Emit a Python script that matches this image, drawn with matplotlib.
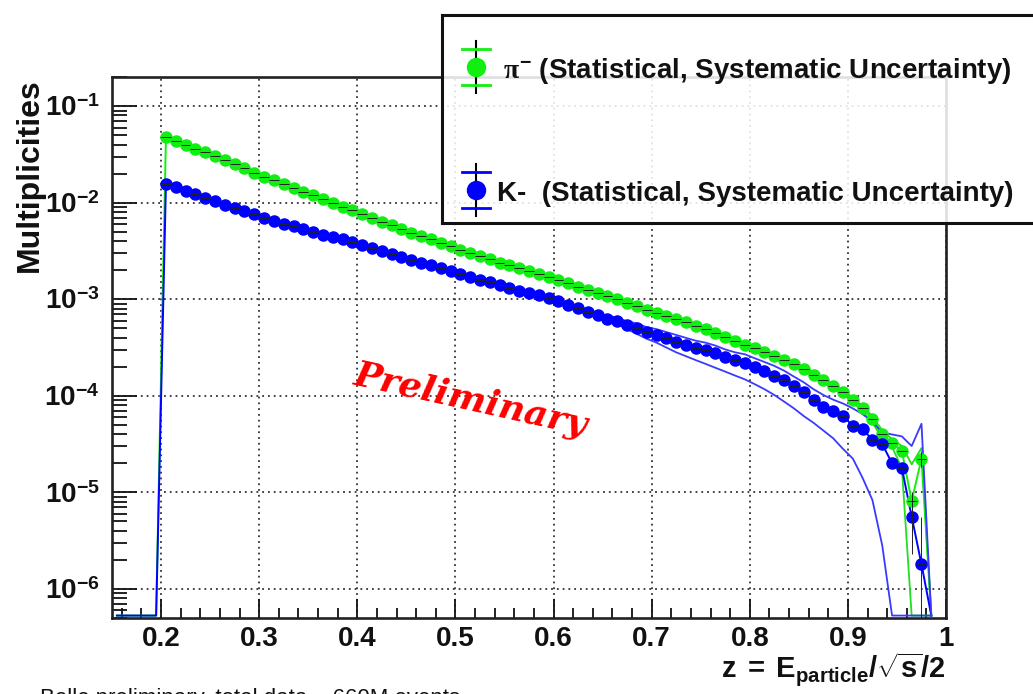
"""Pi- and K- multiplicities vs z, log scale, ROOT-like style."""

import numpy as np
import matplotlib
matplotlib.use("Agg")
import matplotlib.pyplot as plt
from matplotlib.ticker import FixedLocator, LogLocator, MultipleLocator, NullFormatter

plt.rcParams["font.family"] = ["Liberation Sans", "DejaVu Sans"]
plt.rcParams["font.weight"] = "bold"
plt.rcParams["mathtext.fontset"] = "custom"
plt.rcParams["mathtext.rm"] = "Liberation Sans:bold"
plt.rcParams["mathtext.bf"] = "Liberation Sans:bold"
plt.rcParams["mathtext.it"] = "Liberation Serif"

# bin centres with entries (bin width 0.01)
z_pts = 0.205 + 0.01 * np.arange(78)
z_empty_lo = [0.155, 0.165, 0.175, 0.185, 0.195]
z_empty_hi = [0.985]

pi_mult = [
    4.79e-2, 4.37e-2, 3.98e-2, 3.63e-2, 3.31e-2, 3.02e-2, 2.75e-2, 2.51e-2, 2.29e-2, 2.04e-2,
    1.86e-2, 1.70e-2, 1.55e-2, 1.41e-2, 1.29e-2, 1.20e-2, 1.10e-2, 1.00e-2, 9.12e-3, 8.32e-3,
    7.59e-3, 6.92e-3, 6.31e-3, 5.89e-3, 5.37e-3, 4.90e-3, 4.47e-3, 4.17e-3, 3.80e-3, 3.55e-3,
    3.24e-3, 3.02e-3, 2.82e-3, 2.63e-3, 2.40e-3, 2.24e-3, 2.09e-3, 1.95e-3, 1.82e-3, 1.70e-3,
    1.58e-3, 1.48e-3, 1.35e-3, 1.26e-3, 1.17e-3, 1.07e-3, 1.00e-3, 9.12e-4, 8.51e-4, 7.76e-4,
    7.24e-4, 6.76e-4, 6.17e-4, 5.75e-4, 5.25e-4, 4.90e-4, 4.47e-4, 4.07e-4, 3.72e-4, 3.39e-4,
    3.09e-4, 2.82e-4, 2.57e-4, 2.34e-4, 2.14e-4, 1.91e-4, 1.66e-4, 1.45e-4, 1.26e-4, 1.10e-4,
    9.12e-5, 7.41e-5, 5.75e-5, 3.98e-5, 3.24e-5, 2.69e-5, 8.10e-6, 2.24e-5,
]
k_mult = [
    1.55e-2, 1.45e-2, 1.32e-2, 1.23e-2, 1.12e-2, 1.05e-2, 9.55e-3, 8.91e-3, 8.13e-3, 7.59e-3,
    6.92e-3, 6.46e-3, 6.03e-3, 5.75e-3, 5.37e-3, 5.01e-3, 4.68e-3, 4.37e-3, 4.17e-3, 3.89e-3,
    3.63e-3, 3.39e-3, 3.16e-3, 2.95e-3, 2.75e-3, 2.57e-3, 2.40e-3, 2.24e-3, 2.09e-3, 1.95e-3,
    1.82e-3, 1.70e-3, 1.58e-3, 1.51e-3, 1.41e-3, 1.32e-3, 1.23e-3, 1.15e-3, 1.10e-3, 1.02e-3,
    9.55e-4, 8.71e-4, 8.13e-4, 7.41e-4, 6.92e-4, 6.31e-4, 5.89e-4, 5.37e-4, 5.01e-4, 4.57e-4,
    4.27e-4, 3.98e-4, 3.63e-4, 3.39e-4, 3.16e-4, 2.95e-4, 2.75e-4, 2.51e-4, 2.34e-4, 2.19e-4,
    2.00e-4, 1.82e-4, 1.62e-4, 1.45e-4, 1.26e-4, 1.10e-4, 9.12e-5, 7.59e-5, 6.92e-5, 6.17e-5,
    4.90e-5, 4.57e-5, 3.47e-5, 3.16e-5, 2.00e-5, 1.78e-5, 5.60e-6, 1.80e-6,
]

# statistical errors, only visible in the last bins
stat_z = [0.965, 0.975]
pi_stat = [2.0e-6, 4.0e-6]
k_stat = [3.3e-6, 3.8e-6]

# systematic envelopes (0 = empty bin)
k_sys_z = 0.655 + 0.01 * np.arange(34)
k_sys_hi = [
    6.76e-4, 6.46e-4, 5.89e-4, 5.62e-4, 5.13e-4, 4.90e-4, 4.57e-4, 4.27e-4, 3.98e-4, 3.72e-4,
    3.55e-4, 3.31e-4, 3.02e-4, 2.82e-4, 2.69e-4, 2.45e-4, 2.24e-4, 2.04e-4, 1.82e-4, 1.58e-4,
    1.38e-4, 1.17e-4, 1.02e-4, 9.12e-5, 8.32e-5, 7.41e-5, 6.46e-5, 5.37e-5, 4.17e-5, 3.98e-5,
    3.80e-5, 3.02e-5, 5.13e-5, 0,
]
k_sys_lo = [
    6.03e-4, 5.50e-4, 4.90e-4, 4.37e-4, 3.89e-4, 3.55e-4, 3.16e-4, 2.82e-4, 2.57e-4, 2.34e-4,
    2.14e-4, 1.95e-4, 1.78e-4, 1.62e-4, 1.48e-4, 1.32e-4, 1.17e-4, 1.02e-4, 8.71e-5, 7.41e-5,
    6.17e-5, 5.25e-5, 4.37e-5, 3.63e-5, 2.82e-5, 2.24e-5, 1.41e-5, 8.32e-6, 2.82e-6, 0,
    0, 0, 0, 0,
]
pi_sys_z = 0.855 + 0.01 * np.arange(14)
pi_sys_hi = [2.00e-4, 1.74e-4, 1.51e-4, 1.32e-4, 1.15e-4, 9.55e-5, 7.76e-5,
             6.17e-5, 4.37e-5, 3.55e-5, 3.02e-5, 1.95e-5, 2.88e-5, 0]
pi_sys_lo = [1.82e-4, 1.58e-4, 1.38e-4, 1.20e-4, 1.05e-4, 8.51e-5, 6.92e-5,
             5.25e-5, 3.63e-5, 2.95e-5, 1.78e-5, 0, 0, 0]

YMIN, YMAX = 5e-7, 0.2
FLOOR = YMIN * 1.06
GREEN = "#11ee11"
BLUE = "#0000ff"
INK = "#111111"


def at_floor(v):
    v = np.asarray(v, dtype=float)
    return np.where(v > 0, v, FLOOR)


fig = plt.figure(figsize=(10.33, 6.94), dpi=100)
ax = fig.add_axes([0.1084, 0.1095, 0.8074, 0.7795])

for vals, stat, sz, shi, slo, col, lcol in [
    (pi_mult, pi_stat, pi_sys_z, pi_sys_hi, pi_sys_lo, GREEN, "#22dd22"),
    (k_mult, k_stat, k_sys_z, k_sys_hi, k_sys_lo, BLUE, "#3a3aff"),
]:
    # full histogram path incl. empty bins at the frame bottom
    zz = np.concatenate([z_empty_lo, z_pts, z_empty_hi])
    yy = np.concatenate([np.zeros(len(z_empty_lo)), vals, np.zeros(len(z_empty_hi))])
    ax.plot(zz, at_floor(yy), color=col, lw=1.4, zorder=3)
    ax.plot(sz, at_floor(shi), color=lcol, lw=1.3, zorder=3)
    ax.plot(sz, at_floor(slo), color=lcol, lw=1.3, zorder=3)
    yerr = np.zeros(len(z_pts))
    for zs, e in zip(stat_z, stat):
        yerr[np.argmin(np.abs(z_pts - zs))] = e
    vals = np.asarray(vals)
    lo = np.minimum(yerr, vals - FLOOR * 0.5)
    ax.plot(z_pts, vals, "o", color=col, mec=col, ms=8, zorder=4)
    ax.errorbar(z_pts, vals, xerr=0.005, yerr=[lo, yerr], fmt="none",
                ecolor="#222222", elinewidth=0.7, capsize=0, zorder=5)

ax.set_yscale("log")
ax.set_xlim(0.15, 1.0)
ax.set_ylim(YMIN, YMAX)

ax.xaxis.set_major_locator(FixedLocator([0.2, 0.3, 0.4, 0.5, 0.6, 0.7, 0.8, 0.9, 1.0]))
ax.set_xticklabels(["0.2", "0.3", "0.4", "0.5", "0.6", "0.7", "0.8", "0.9", "1"])
ax.xaxis.set_minor_locator(MultipleLocator(0.02))
ax.yaxis.set_major_locator(FixedLocator([1e-6, 1e-5, 1e-4, 1e-3, 1e-2, 1e-1]))
ax.set_yticklabels([r"$10^{-6}$", r"$10^{-5}$", r"$10^{-4}$",
                    r"$10^{-3}$", r"$10^{-2}$", r"$10^{-1}$"])
ax.yaxis.set_minor_locator(LogLocator(base=10, subs=np.arange(2, 10)))
ax.yaxis.set_minor_formatter(NullFormatter())

ax.tick_params(axis="both", which="both", direction="in", colors=INK,
               labelsize=20, width=1.3, top=False, right=False)
ax.tick_params(axis="x", which="major", length=14, pad=6)
ax.tick_params(axis="x", which="minor", length=7)
ax.tick_params(axis="y", which="major", length=18, pad=9)
ax.tick_params(axis="y", which="minor", length=11)

ax.grid(which="major", color="#333333", linestyle=(0, (1, 2.2)), lw=1.3)
for sp in ax.spines.values():
    sp.set_linewidth(1.9)
    sp.set_color("#222222")

fig.text(0.029, 0.887, "Multiplicities", rotation=90, ha="center", va="top",
         fontsize=23, color=INK)
fig.text(0.9158, 0.035, r"$\mathrm{z\;=\;E_{particle}/\sqrt{s}/2}$",
         ha="right", va="center", fontsize=21, color=INK)
fig.text(0.456, 0.4236, "Preliminary", color="red", family="DejaVu Serif",
         style="italic", weight="bold", fontsize=26, rotation=-12.5,
         ha="center", va="center", rotation_mode="anchor")
fig.text(0.039, 0.009, "Belle preliminary, total data ~ 660M events",
         ha="left", va="top", fontsize=16, weight="normal", color=INK)

# legend box, partly outside the figure on the right
W, H = 0.6 * 1033, 208
lax = fig.add_axes([0.4279, 0.6787, 0.6, 0.2997])
lax.set_xlim(0, W)
lax.set_ylim(H, 0)
lax.set_xticks([])
lax.set_yticks([])
lax.patch.set_facecolor((1, 1, 1, 0.86))
for sp in lax.spines.values():
    sp.set_linewidth(2.2)
    sp.set_color("#111111")

entries = [
    (GREEN, r"$\pi^{-}$ (Statistical, Systematic Uncertainty)", 52, 61),
    (BLUE, "K-  (Statistical, Systematic Uncertainty)", 175, 55),
]
for col, label, yc, tx in entries:
    lax.plot([34, 34], [yc - 26, yc + 26], color="black", lw=1.5)
    lax.plot([20, 48], [yc - 18, yc - 18], color=col, lw=2)
    lax.plot([20, 48], [yc + 18, yc + 18], color=col, lw=2)
    lax.plot(34, yc, "o", color=col, mec=col, ms=13)
    lax.text(tx, yc + 4, label, va="center", ha="left", fontsize=20, color=INK)

fig.savefig("out.png", dpi=100)
